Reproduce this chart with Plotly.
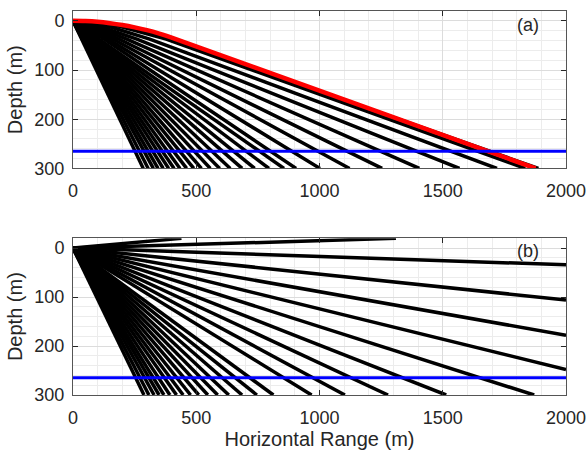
import plotly.graph_objects as go

# ---------------- data ----------------
# Panel (a): ray end ranges (m) at the 300 m bottom for the steep (nearly straight) rays
a_steep_end_x = [285, 305, 326, 345, 366, 388, 410, 434, 461, 490, 521, 557,
                 595, 638, 686, 737, 795, 856]
# Panel (a): rays bent in the near-surface layer (range / depth control points)
a_bent_x = [[0, 63, 126, 905],
            [0, 72, 142, 1002],
            [0, 82, 162, 1122],
            [0, 94, 186, 1254],
            [0, 110, 218, 1405],
            [0, 130, 259, 1568],
            [0, 156, 311, 1720],
            [0, 189, 378, 1835],
            [0, 100, 200, 300, 420, 1888]]
a_bent_z = [[0, 18, 37, 300],
            [0, 18, 37, 300],
            [0, 17, 37, 300],
            [0, 17, 37, 300],
            [0, 16, 37, 300],
            [0, 15, 37, 300],
            [0, 13, 37, 300],
            [0, 11, 37, 300],
            [0, 3, 11, 22, 41, 300]]
# Panel (a): highlighted (red) ray
red_x = [0, 50, 100, 150, 200, 250, 300, 350, 417, 1877]
red_z = [0, 0.5, 2, 4.8, 8.5, 13.3, 19, 26, 37, 300]

# Panel (b): straight rays from the source
b_bottom_end_x = [288, 308, 329, 349, 369, 393, 420, 447, 477, 510, 547, 587,
                  632, 686, 746, 813, 968, 1103, 1278, 1514, 1871]
b_side_end_z = [248, 178, 106, 34]      # depth where ray leaves at 2000 m
b_top_end_x = [1310, 440]               # range where ray reaches the top

source_x, source_z = 0, 0
bottom_depth = 300
top_depth = -20
max_range = 2000
interface_depth = 265

# ---------------- build traces ----------------
def seg_lists(paths_x, paths_z):
    xs, zs = [], []
    for px, pz in zip(paths_x, paths_z):
        xs += list(px) + [None]
        zs += list(pz) + [None]
    return xs, zs

a_paths_x = [[source_x, e] for e in a_steep_end_x] + a_bent_x
a_paths_z = [[source_z, bottom_depth] for _ in a_steep_end_x] + a_bent_z
ax_x, ax_z = seg_lists(a_paths_x, a_paths_z)

b_paths_x = ([[source_x, e] for e in b_bottom_end_x] +
             [[source_x, max_range] for _ in b_side_end_z] +
             [[source_x, e] for e in b_top_end_x])
b_paths_z = ([[source_z, bottom_depth] for _ in b_bottom_end_x] +
             [[source_z, z] for z in b_side_end_z] +
             [[source_z, top_depth] for _ in b_top_end_x])
bx_x, bx_z = seg_lists(b_paths_x, b_paths_z)

fig = go.Figure()
fig.add_trace(go.Scatter(x=ax_x, y=ax_z, mode="lines",
                         line=dict(color="black", width=3.5), xaxis="x", yaxis="y",
                         showlegend=False, hoverinfo="skip"))
fig.add_trace(go.Scatter(x=red_x, y=red_z, mode="lines", line_shape="spline",
                         line=dict(color="#ff0000", width=4.5), xaxis="x", yaxis="y",
                         showlegend=False, hoverinfo="skip"))
fig.add_trace(go.Scatter(x=[0, max_range], y=[interface_depth, interface_depth], mode="lines",
                         line=dict(color="#0000ff", width=3), xaxis="x", yaxis="y",
                         showlegend=False, hoverinfo="skip"))
fig.add_trace(go.Scatter(x=bx_x, y=bx_z, mode="lines",
                         line=dict(color="black", width=3.5), xaxis="x2", yaxis="y2",
                         showlegend=False, hoverinfo="skip"))
fig.add_trace(go.Scatter(x=[0, max_range], y=[interface_depth, interface_depth], mode="lines",
                         line=dict(color="#0000ff", width=3), xaxis="x2", yaxis="y2",
                         showlegend=False, hoverinfo="skip"))

font_family = "Liberation Sans, Arial, sans-serif"
txt = "#262626"

def xaxis_cfg(anchor, title=None):
    d = dict(anchor=anchor, domain=[0, 1], range=[0, max_range],
             tickvals=[0, 500, 1000, 1500, 2000],
             ticks="inside", ticklen=5, tickcolor=txt, tickwidth=1,
             showline=True, linecolor="#555555", linewidth=1, mirror="ticks",
             showgrid=True, gridcolor="#dcdcdc", gridwidth=1,
             minor=dict(dtick=100, tick0=0, showgrid=True, gridcolor="#ececec", gridwidth=1),
             tickfont=dict(family=font_family, size=18, color=txt),
             ticklabelstandoff=6, zeroline=False, automargin=False)
    if title:
        d["title"] = dict(text=title, font=dict(family=font_family, size=20, color=txt),
                          standoff=4)
    return d

def yaxis_cfg(anchor, domain):
    return dict(anchor=anchor, domain=domain, range=[bottom_depth, top_depth],
                tickvals=[0, 100, 200, 300],
                ticks="inside", ticklen=5, tickcolor=txt, tickwidth=1,
                showline=True, linecolor="#555555", linewidth=1, mirror="ticks",
                showgrid=True, gridcolor="#dcdcdc", gridwidth=1,
                minor=dict(dtick=20, tick0=0, showgrid=True, gridcolor="#ececec", gridwidth=1),
                tickfont=dict(family=font_family, size=18, color=txt),
                ticklabelstandoff=4, zeroline=False, automargin=False,
                title=dict(text="Depth (m)", font=dict(family=font_family, size=20, color=txt),
                           standoff=6))

fig.update_layout(
    width=587, height=451,
    margin=dict(l=73, r=21, t=11, b=56, autoexpand=False),
    paper_bgcolor="white", plot_bgcolor="white",
    xaxis=xaxis_cfg("y"),
    yaxis=yaxis_cfg("x", [0.590, 1.0]),
    xaxis2=xaxis_cfg("y2", "Horizontal Range (m)"),
    yaxis2=yaxis_cfg("x2", [0.0, 0.408]),
    annotations=[
        dict(text="(a)", x=1845, y=9, xref="x", yref="y", showarrow=False,
             font=dict(family=font_family, size=18, color=txt)),
        dict(text="(b)", x=1845, y=5, xref="x2", yref="y2", showarrow=False,
             font=dict(family=font_family, size=18, color=txt)),
    ],
)

fig.write_html("out.html",
               config={"displayModeBar": False, "staticPlot": True},
               post_script="document.body.style.margin='0';document.body.style.overflow='hidden';")
